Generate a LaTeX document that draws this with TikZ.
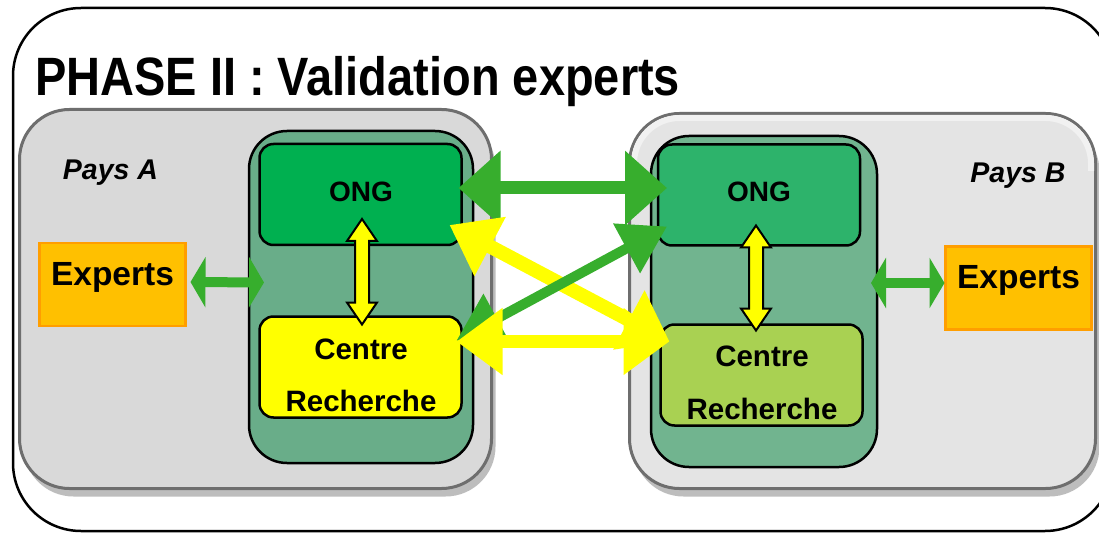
\documentclass[tikz,border=0pt]{standalone}
\usepackage{fontspec}
\setmainfont{Liberation Sans}
\usetikzlibrary{arrows.meta,calc,shadows}

\definecolor{cPaysA}{HTML}{D9D9D9}
\definecolor{cPaysB}{HTML}{E4E4E4}
\definecolor{cPaysHigh}{HTML}{F1F1F1}
\definecolor{cPaysLine}{HTML}{6E6E6E}
\definecolor{cShadow}{HTML}{BDBDBD}
\definecolor{cContA}{HTML}{69AD89}
\definecolor{cContB}{HTML}{71B48F}
\definecolor{cOngA}{HTML}{00B050}
\definecolor{cOngB}{HTML}{2DB36B}
\definecolor{cCrA}{HTML}{FFFF00}
\definecolor{cCrB}{HTML}{A9D152}
\definecolor{cExpFill}{HTML}{FFC000}
\definecolor{cExpLine}{HTML}{FF9E00}
\definecolor{cGreen}{HTML}{37AE2D}
\definecolor{cYellow}{HTML}{FFFF00}

% outlined vertical double arrow between two named points (top, bottom)
\newcommand{\vdarrow}[2]{%
  \draw[varrow] (#1) -- ($(#1)+(15,22)$) -- ($(#1)+(7,22)$)
    -- ($(#2)+(7,-22)$) -- ($(#2)+(15,-22)$) -- (#2)
    -- ($(#2)+(-15,-22)$) -- ($(#2)+(-7,-22)$)
    -- ($(#1)+(-7,22)$) -- ($(#1)+(-15,22)$) -- cycle;}

\begin{document}
\begin{tikzpicture}[x=1pt,y=-1pt,
  frame/.style={draw=black, line width=2.5pt, rounded corners=68pt},
  countrybox/.style={draw=cPaysLine, line width=3pt, rounded corners=50pt,
    inner sep=0pt, outer sep=0pt,
    drop shadow={shadow xshift=4pt, shadow yshift=-8pt, fill=cShadow, opacity=1}},
  container/.style={draw=black, line width=2.5pt, rounded corners=38pt,
    inner sep=0pt, outer sep=0pt},
  unit/.style={draw=black, line width=2.5pt, rounded corners=14pt,
    inner sep=0pt, outer sep=0pt, minimum width=202pt, minimum height=101pt},
  expbox/.style={draw=cExpLine, fill=cExpFill, line width=2.5pt,
    inner sep=0pt, outer sep=0pt, minimum width=146pt, minimum height=83pt},
  lbl/.style={anchor=base, inner sep=0pt, font=\bfseries\fontsize{28}{28}\selectfont},
  crlbl/.style={anchor=base, inner sep=0pt, font=\bfseries\fontsize{29.5}{29.5}\selectfont},
  explbl/.style={anchor=base, inner sep=0pt, font=\bfseries\fontsize{33.5}{33.5}\selectfont},
  paylbl/.style={anchor=base, inner sep=0pt, font=\bfseries\itshape\fontsize{28.5}{28.5}\selectfont},
  garrow/.style={draw=cGreen, line width=#1},
  yarrow/.style={draw=cYellow, line width=#1},
  varrow/.style={draw=black, fill=cYellow, line width=2pt, line join=miter},
  gtip/.style={{Triangle[length=42pt,width=72pt]}-{Triangle[length=42pt,width=72pt]}},
  dtip/.style={{Triangle[length=46pt,width=54pt]}-{Triangle[length=46pt,width=54pt]}},
  ytip/.style={{Triangle[length=46pt,width=64pt]}-{Triangle[length=46pt,width=64pt]}},
  etip/.style={{Triangle[length=15pt,width=50pt]}-{Triangle[length=15pt,width=50pt]}}
]
\useasboundingbox (0,0) rectangle (1099,534);
\fill[white] (0,0) rectangle (1099,534);

% outer frame
\draw[frame] (13,8) rectangle (1113,531);

% title
\node[anchor=base west, inner sep=0pt] (title) at (35,96)
  {\scalebox{0.87}[1]{\bfseries\fontsize{54}{54}\selectfont PHASE II : Validation experts}};

% country panels
\node[countrybox, fill=cPaysA, minimum width=472pt, minimum height=379pt] (paysA) at (255.5,299) {};
\node[countrybox, fill=cPaysB, minimum width=466pt, minimum height=375pt] (paysB) at (862.5,301) {};
% light band along the top inside edge of the right panel
\draw[cPaysHigh, line width=6pt, rounded corners=45.5pt]
  ($(paysB.west)+(4.5,-130)$) |- ($(paysB.north)+(0,4.5)$) -| ($(paysB.east)+(-4.5,-130)$);

\node[paylbl] (paysAlbl) at (110.5,180) {Pays A};
\node[paylbl] (paysBlbl) at (1018,183) {Pays B};

% partner containers
\node[container, fill=cContA, minimum width=224pt, minimum height=332pt] (contA) at (361,297) {};
\node[container, fill=cContB, minimum width=226pt, minimum height=331pt] (contB) at (764,301.5) {};

% units
\node[unit, fill=cOngA] (ongA) at (360.5,194.5) {};
\node[unit, fill=cOngB] (ongB) at (759,195) {};
\node[unit, fill=cCrA] (crA) at (360.5,367) {};
\node[unit, fill=cCrB] (crB) at (761.5,375) {};

\node[lbl] (ongAlbl) at (361,202) {ONG};
\node[lbl] (ongBlbl) at (759,202) {ONG};
\node[crlbl] (crAl1) at (361,359) {Centre};
\node[crlbl] (crAl2) at (361,411) {Recherche};
\node[crlbl] (crBl1) at (762,366) {Centre};
\node[crlbl] (crBl2) at (762,419) {Recherche};

% experts
\node[expbox] (expA) at (112.5,284.5) {};
\node[expbox] (expB) at (1018.5,288) {};
\node[explbl] (expAlbl) at (112.5,286) {Experts};
\node[explbl] (expBlbl) at (1018.5,289) {Experts};

% experts <-> containers
\draw[garrow=10pt, etip] ($(expA.east)+(5,-2.5)$) -- ($(contA.west)+(15,-14.5)$);
\draw[garrow=10pt, etip] ($(contB.east)+(-6,-18.5)$) -- ($(expB.west)+(-1,-5)$);

% links between countries
\draw[garrow=13pt, gtip] ($(ongA.east)+(-3,-6.5)$) -- ($(ongB.west)+(9,-7)$);
\draw[yarrow=14pt, ytip] ($(ongA.south east)+(-12,-20)$) -- ($(crB.north west)+(9,17)$);
\draw[garrow=10pt, dtip] ($(crA.north east)+(-5,24)$) -- ($(ongB.south west)+(9,-19)$);
\draw[yarrow=13pt, ytip] ($(crA.north east)+(-5,25)$) -- ($(crB.north west)+(9,17)$);

% internal links
\coordinate (tA) at ($(ongA.south)+(1.5,-26)$);
\coordinate (bA) at ($(crA.north)+(1.5,8)$);
\coordinate (tB) at ($(ongB.south)+(-3,-20)$);
\coordinate (bB) at ($(crB.north)+(-5.5,6)$);
\vdarrow{tA}{bA}
\vdarrow{tB}{bB}
\end{tikzpicture}
\end{document}
